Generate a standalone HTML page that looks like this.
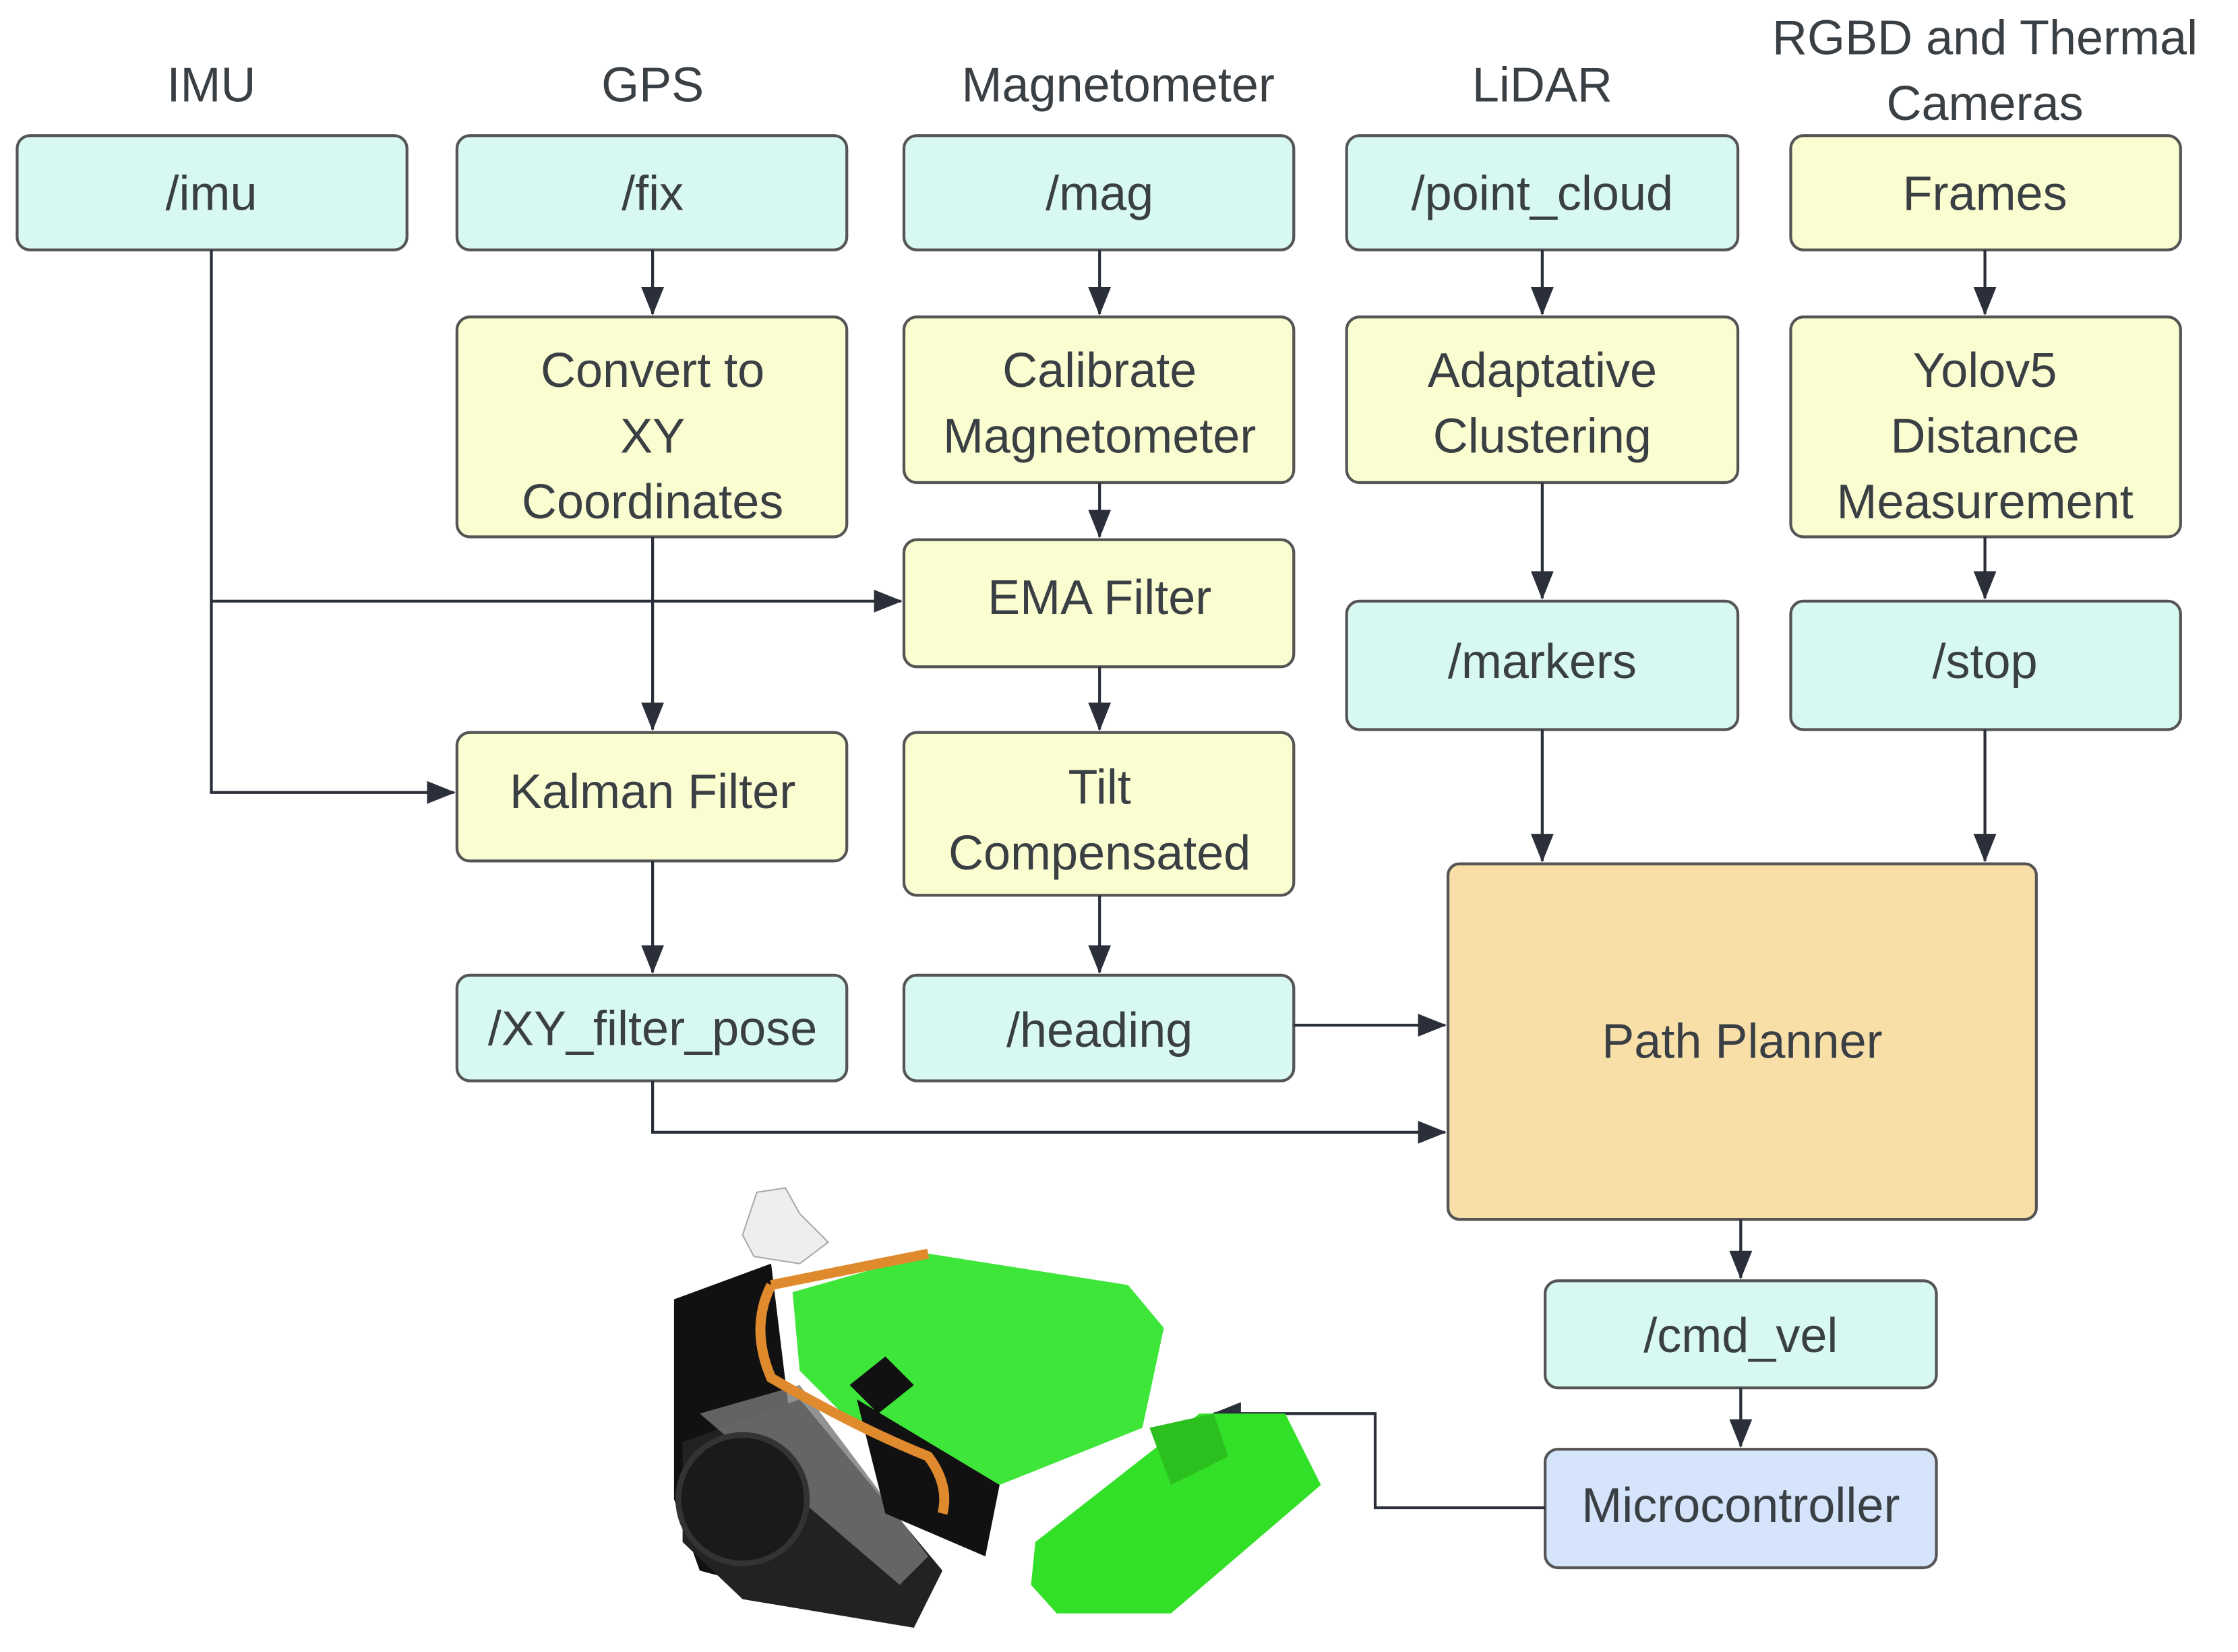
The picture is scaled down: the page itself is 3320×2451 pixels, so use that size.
<!DOCTYPE html>
<html><head><meta charset="utf-8"><style>html,body{margin:0;padding:0;background:#fff}svg{display:block}</style></head>
<body>
<svg width="3320" height="2451" viewBox="0 0 1567 1157" preserveAspectRatio="xMinYMin meet" xmlns="http://www.w3.org/2000/svg" font-family="Liberation Sans, sans-serif">
<defs><marker id="b" markerWidth="20" markerHeight="16" refX="19" refY="8" orient="auto" markerUnits="userSpaceOnUse"><path d="M0,0 L20,8 L0,16 Z" fill="#2a2f3a"/></marker></defs>
<g font-size="34" fill="#3a3f44" text-anchor="middle">
<text x="148" y="71">IMU</text><text x="457" y="71">GPS</text><text x="783" y="71">Magnetometer</text><text x="1080" y="71">LiDAR</text>
<text x="1390" y="38">RGBD and Thermal</text><text x="1390" y="84">Cameras</text>
</g>
<g stroke="#555" stroke-width="2">
<g fill="#d8f8f2">
<rect x="12" y="95" width="273" height="80" rx="9"/><rect x="320" y="95" width="273" height="80" rx="9"/>
<rect x="633" y="95" width="273" height="80" rx="9"/><rect x="943" y="95" width="274" height="80" rx="9"/>
<rect x="943" y="421" width="274" height="90" rx="9"/><rect x="1254" y="421" width="273" height="90" rx="9"/>
<rect x="320" y="683" width="273" height="74" rx="9"/><rect x="633" y="683" width="273" height="74" rx="9"/>
<rect x="1082" y="897" width="274" height="75" rx="9"/>
</g>
<g fill="#fafdd0">
<rect x="1254" y="95" width="273" height="80" rx="9"/>
<rect x="320" y="222" width="273" height="154" rx="9"/><rect x="633" y="222" width="273" height="116" rx="9"/>
<rect x="943" y="222" width="274" height="116" rx="9"/><rect x="1254" y="222" width="273" height="154" rx="9"/>
<rect x="633" y="378" width="273" height="89" rx="9"/><rect x="320" y="513" width="273" height="90" rx="9"/>
<rect x="633" y="513" width="273" height="114" rx="9"/>
</g>
<rect x="1014" y="605" width="412" height="249" rx="8" fill="#f8dfa8"/>
<rect x="1082" y="1015" width="274" height="83" rx="9" fill="#d5e3fb"/>
</g>
<g font-size="34" fill="#3a3f44" text-anchor="middle">
<text x="148" y="147">/imu</text><text x="457" y="147">/fix</text><text x="770" y="147">/mag</text><text x="1080" y="147">/point_cloud</text><text x="1390" y="147">Frames</text>
<text x="457" y="271">Convert to</text><text x="457" y="317">XY</text><text x="457" y="363">Coordinates</text>
<text x="770" y="271">Calibrate</text><text x="770" y="317">Magnetometer</text>
<text x="1080" y="271">Adaptative</text><text x="1080" y="317">Clustering</text>
<text x="1390" y="271">Yolov5</text><text x="1390" y="317">Distance</text><text x="1390" y="363">Measurement</text>
<text x="770" y="430">EMA Filter</text><text x="1080" y="475">/markers</text><text x="1390" y="475">/stop</text>
<text x="457" y="566">Kalman Filter</text><text x="770" y="563">Tilt</text><text x="770" y="609">Compensated</text>
<text x="457" y="732">/XY_filter_pose</text><text x="770" y="733">/heading</text>
<text x="1220" y="741">Path Planner</text><text x="1219" y="947">/cmd_vel</text><text x="1219" y="1066">Microcontroller</text>
</g>
<g stroke="#2a2f3a" stroke-width="2" fill="none" marker-end="url(#b)">
<path d="M148,175 V555 H318"/><path d="M148,421 H631"/>
<path d="M457,175 V220"/><path d="M457,376 V511"/><path d="M457,603 V681"/>
<path d="M770,175 V220"/><path d="M770,338 V376"/><path d="M770,467 V511"/><path d="M770,627 V681"/>
<path d="M1080,175 V220"/><path d="M1080,338 V419"/><path d="M1080,511 V603"/>
<path d="M1390,175 V220"/><path d="M1390,376 V419"/><path d="M1390,511 V603"/>
<path d="M906,718 H1012"/><path d="M457,757 V793 H1012"/>
<path d="M1219,854 V895"/><path d="M1219,972 V1013"/>
<path d="M1082,1056 H963 V990 H850"/>
</g>
<g>
<path d="M472,910 L540,885 L560,1050 L640,1140 L490,1100 L472,1050 Z" fill="#111"/>
<path d="M478,1010 L560,980 L660,1100 L640,1140 L520,1120 L478,1080 Z" fill="#222"/>
<path d="M490,990 L560,970 L650,1090 L630,1110 Z" fill="#777" opacity="0.8"/>
<circle cx="520" cy="1050" r="45" fill="#1a1a1a" stroke="#333" stroke-width="4"/>
<path d="M555,905 L650,878 L790,900 L815,930 L800,1000 L700,1040 L600,1000 L560,960 Z" fill="#3fe63a"/>
<path d="M600,980 L700,1040 L690,1090 L620,1060 Z" fill="#111"/>
<path d="M540,900 Q525,930 540,965 Q600,1000 650,1020 Q665,1040 660,1060" stroke="#e08a2e" stroke-width="7" fill="none"/>
<path d="M540,900 L650,878" stroke="#e08a2e" stroke-width="7"/>
<path d="M595,970 L620,950 L640,970 L615,990 Z" fill="#111"/>
<path d="M725,1080 L840,990 L900,990 L925,1040 L820,1130 L740,1130 L722,1110 Z" fill="#33e028"/>
<path d="M805,1000 L850,990 L860,1020 L820,1040 Z" fill="#2bc020"/>
<path d="M530,835 L550,832 L560,850 L580,870 L560,885 L528,880 L520,865 Z" fill="#eee" stroke="#aaa"/>
</g>
</svg>
</body></html>
